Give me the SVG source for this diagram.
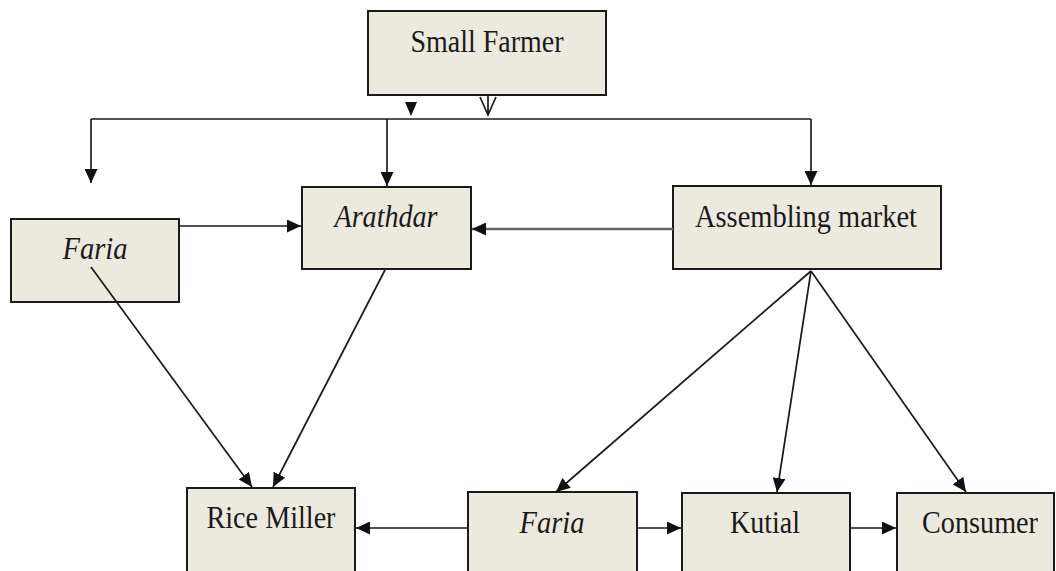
<svg xmlns="http://www.w3.org/2000/svg" width="1056" height="571" viewBox="0 0 1056 571">
<style>
.box{fill:#ECE9DF;stroke:#1a1a1a;stroke-width:2}
.t{font-size:28px;fill:#1a1a1a;text-anchor:middle}
.i{font-style:italic}
.c{stroke:#1a1a1a;stroke-width:1.7;fill:none}
.g{stroke:#666;stroke-width:2.4;fill:none}
</style>
<defs>
<marker id="ah" markerUnits="userSpaceOnUse" markerWidth="15" markerHeight="13" refX="14" refY="6.5" orient="auto">
<path d="M0,0 L14,6.5 L0,13 z" fill="#111"/>
</marker>
</defs>
<g id="small-farmer"><rect class="box" x="368" y="11" width="238" height="84"/><text class="t" font-family="Liberation Serif, serif" transform="translate(487,52) scale(1,1.12)" textLength="153" lengthAdjust="spacingAndGlyphs">Small Farmer</text></g>
<g id="faria-left"><rect class="box" x="11" y="219" width="168" height="83"/><text class="t i" font-family="Liberation Serif, serif" transform="translate(95,259) scale(1,1.12)" textLength="65" lengthAdjust="spacingAndGlyphs">Faria</text></g>
<g id="arathdar"><rect class="box" x="302" y="187" width="169" height="82"/><text class="t i" font-family="Liberation Serif, serif" transform="translate(386,227) scale(1,1.12)" textLength="103" lengthAdjust="spacingAndGlyphs">Arathdar</text></g>
<g id="assembling-market"><rect class="box" x="673" y="186" width="268" height="83"/><text class="t" font-family="Liberation Serif, serif" transform="translate(806,227) scale(1,1.12)" textLength="222" lengthAdjust="spacingAndGlyphs">Assembling market</text></g>
<g id="rice-miller"><rect class="box" x="187" y="488" width="168" height="90"/><text class="t" font-family="Liberation Serif, serif" transform="translate(271,528) scale(1,1.12)" textLength="129" lengthAdjust="spacingAndGlyphs">Rice Miller</text></g>
<g id="faria-bottom"><rect class="box" x="468" y="492" width="169" height="86"/><text class="t i" font-family="Liberation Serif, serif" transform="translate(552,533) scale(1,1.12)" textLength="65" lengthAdjust="spacingAndGlyphs">Faria</text></g>
<g id="kutial"><rect class="box" x="682" y="493" width="168" height="85"/><text class="t" font-family="Liberation Serif, serif" transform="translate(765,533) scale(1,1.12)" textLength="70" lengthAdjust="spacingAndGlyphs">Kutial</text></g>
<g id="consumer"><rect class="box" x="897" y="493" width="157" height="85"/><text class="t" font-family="Liberation Serif, serif" transform="translate(980,533) scale(1,1.12)" textLength="116" lengthAdjust="spacingAndGlyphs">Consumer</text></g>
<g id="connectors">
<path class="c" d="M91,119 H811"/>
<path class="c" d="M91,119 V183" marker-end="url(#ah)"/>
<path class="c" d="M387,119 V186" marker-end="url(#ah)"/>
<path class="c" d="M811,119 V185" marker-end="url(#ah)"/>
<polygon points="405,102 417,102 411,116" fill="#111"/>
<path class="c" d="M488,95 V115 M480,97 L488,115 L496,97"/>
<path class="c" d="M179,226 H301" marker-end="url(#ah)"/>
<path class="g" d="M673,229 H472" marker-end="url(#ah)"/>
<path class="c" d="M91,267 L252,487" marker-end="url(#ah)"/>
<path class="c" d="M385,270 L273,487" marker-end="url(#ah)"/>
<path class="c" d="M811,271 L556,492" marker-end="url(#ah)"/>
<path class="c" d="M811,271 L777,492" marker-end="url(#ah)"/>
<path class="c" d="M811,271 L966,492" marker-end="url(#ah)"/>
<path class="c" d="M468,528 H356" marker-end="url(#ah)"/>
<path class="c" d="M637,528 H681" marker-end="url(#ah)"/>
<path class="c" d="M850,528 H896" marker-end="url(#ah)"/>
</g>
</svg>
